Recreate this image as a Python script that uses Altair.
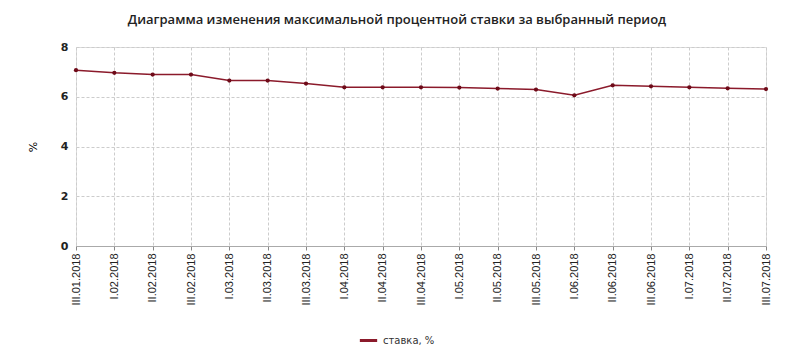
import altair as alt
import pandas as pd

periods = ["III.01.2018", "I.02.2018", "II.02.2018", "III.02.2018", "I.03.2018",
           "II.03.2018", "III.03.2018", "I.04.2018", "II.04.2018", "III.04.2018",
           "I.05.2018", "II.05.2018", "III.05.2018", "I.06.2018", "II.06.2018",
           "III.06.2018", "I.07.2018", "II.07.2018", "III.07.2018"]
rates = [7.07, 6.96, 6.89, 6.89, 6.65, 6.65, 6.53, 6.38, 6.38, 6.38,
         6.37, 6.33, 6.29, 6.06, 6.46, 6.42, 6.38, 6.34, 6.31]
series_name = "ставка, %"

df = pd.DataFrame({"period": periods, "rate": rates, "series": series_name})

x_enc = alt.X("period:N", sort=periods, scale=alt.Scale(type="point", padding=0),
              axis=alt.Axis(title=None, labelAngle=270, labelFont="Liberation Sans",
                            labelFontSize=11, labelColor="#222", labelPadding=3,
                            domainColor="#aaaaaa", tickColor="#888888", tickSize=4,
                            grid=True, gridColor="#cccccc", gridDash=[3, 2]))
y_enc = alt.Y("rate:Q", scale=alt.Scale(domain=[0, 8], nice=False),
              axis=alt.Axis(title="%", values=[0, 2, 4, 6, 8], titleFont="DejaVu Sans",
                            titleFontWeight="normal", titleFontSize=11, titlePadding=22,
                            labelFont="DejaVu Sans", labelFontSize=11, labelFontWeight="bold",
                            labelColor="#222", labelPadding=8, domain=False, ticks=False,
                            grid=True, gridColor="#cccccc", gridDash=[3, 2]))

color = alt.Color("series:N", scale=alt.Scale(range=["#8b1a2b"]),
                  legend=alt.Legend(title=None, orient="none", legendX=282, legendY=283,
                                    symbolType="stroke", symbolStrokeWidth=3, symbolSize=300,
                                    labelFont="DejaVu Sans", labelFontSize=10,
                                    labelColor="#333"))

line = alt.Chart(df).mark_line(strokeWidth=1.5).encode(x=x_enc, y=y_enc, color=color)
pts = alt.Chart(df).mark_circle(size=18, opacity=1, color="#6e0a18").encode(x=x_enc, y=y_enc)

chart = (line + pts).properties(
    width=690, height=199,
    autosize=alt.AutoSizeParams(type="none"),
    padding={"left": 76, "top": 47, "right": 30, "bottom": 111},
    title=alt.TitleParams("Диаграмма изменения максимальной процентной ставки за выбранный период",
                          font="Open Sans", fontSize=13, fontWeight=600, color="#222",
                          anchor="middle", dx=-24, offset=14),
).configure_view(stroke=None).configure(background="white")

chart.save("out.html", embed_options={"renderer": "svg", "actions": False})
